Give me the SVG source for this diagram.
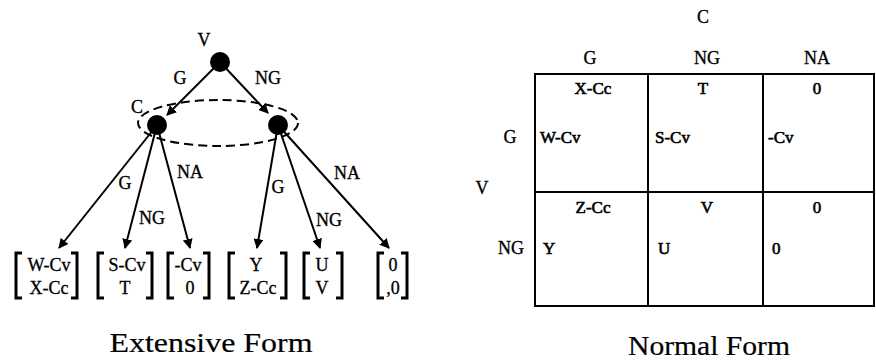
<svg xmlns="http://www.w3.org/2000/svg" width="876" height="362" viewBox="0 0 876 362">
<style>
text{font-family:"Liberation Serif","Times New Roman",serif;fill:#000;stroke:#000;stroke-width:0.3;}
.lb{font-size:18px;text-anchor:middle;}
.cell{font-size:17px;stroke-width:0.6;}
.mid{text-anchor:middle;}
.cap{font-size:27px;text-anchor:middle;stroke-width:0.2;}
.edge{stroke:#000;stroke-width:2;fill:none;marker-end:url(#ah);}
.node{fill:#000;}
.brk{stroke:#000;stroke-width:3;fill:none;}
.grid{stroke:#000;stroke-width:2;fill:none;}
</style>
<defs>
<marker id="ah" viewBox="0 0 10 10" refX="9" refY="5" markerWidth="5" markerHeight="5" orient="auto" markerUnits="strokeWidth">
<path d="M0,0 L10,5 L0,10 z" fill="#000"/>
</marker>
</defs>

<g id="connectors">
<line class="edge" x1="220" y1="62" x2="167" y2="115"/>
<line class="edge" x1="220" y1="62" x2="268" y2="113"/>
<line class="edge" x1="157" y1="125" x2="59" y2="248"/>
<line class="edge" x1="157" y1="125" x2="125" y2="248"/>
<line class="edge" x1="157" y1="125" x2="190" y2="248"/>
<line class="edge" x1="278" y1="125" x2="257" y2="248"/>
<line class="edge" x1="278" y1="125" x2="320" y2="248"/>
<line class="edge" x1="278" y1="125" x2="389" y2="248"/>
<text class="lb" x="180" y="84">G</text>
<text class="lb" x="268" y="84">NG</text>
<text class="lb" x="125" y="189">G</text>
<text class="lb" x="152" y="224">NG</text>
<text class="lb" x="190" y="178">NA</text>
<text class="lb" x="278" y="193">G</text>
<text class="lb" x="329" y="226">NG</text>
<text class="lb" x="347" y="179">NA</text>
</g>

<g id="info-set">
<ellipse cx="218" cy="123" rx="80" ry="23" fill="none" stroke="#000" stroke-width="2" stroke-dasharray="9,5"/>
</g>

<g id="node-V">
<circle class="node" cx="220" cy="62" r="10"/>
<text class="lb" x="204" y="46">V</text>
</g>
<g id="node-C1">
<circle class="node" cx="157" cy="125" r="10"/>
<text class="lb" x="137" y="113">C</text>
</g>
<g id="node-C2">
<circle class="node" cx="278" cy="125" r="10"/>
</g>

<g id="leaf1">
<path class="brk" d="M22,253 H16 V298 H22 M71,253 H77 V298 H71"/>
<text class="lb" x="49" y="271">W-Cv</text>
<text class="lb" x="49" y="294">X-Cc</text>
</g>
<g id="leaf2">
<path class="brk" d="M104,253 H98 V298 H104 M146,253 H152 V298 H146"/>
<text class="lb" x="127" y="271">S-Cv</text>
<text class="lb" x="125" y="294">T</text>
</g>
<g id="leaf3">
<path class="brk" d="M174,253 H168 V298 H174 M203,253 H209 V298 H203"/>
<text class="lb" x="188" y="271">-Cv</text>
<text class="lb" x="190" y="294">0</text>
</g>
<g id="leaf4">
<path class="brk" d="M235,253 H229 V298 H235 M280,253 H286 V298 H280"/>
<text class="lb" x="256" y="271">Y</text>
<text class="lb" x="258" y="294">Z-Cc</text>
</g>
<g id="leaf5">
<path class="brk" d="M310,253 H304 V298 H310 M336,253 H342 V298 H336"/>
<text class="lb" x="322" y="271">U</text>
<text class="lb" x="322" y="294">V</text>
</g>
<g id="leaf6">
<path class="brk" d="M384,253 H378 V298 H384 M401,253 H407 V298 H401"/>
<text class="lb" x="393" y="271">0</text>
<text class="lb" x="393" y="294">,0</text>
</g>

<text class="cap" x="211" y="352" textLength="203" lengthAdjust="spacingAndGlyphs">Extensive Form</text>

<g id="normal-form">
<path class="grid" d="M535,74 H874 V306 H535 Z M648,74 V306 M763,74 V306 M535,192 H874"/>
<text class="lb" x="703" y="23">C</text>
<text class="lb" x="590" y="64">G</text>
<text class="lb" x="707" y="64">NG</text>
<text class="lb" x="817" y="64">NA</text>
<text class="lb" x="482" y="194">V</text>
<text class="lb" x="510" y="143">G</text>
<text class="lb" x="511" y="254">NG</text>
<text class="cell mid" x="593" y="94">X-Cc</text>
<text class="cell mid" x="703" y="94">T</text>
<text class="cell mid" x="817" y="94">0</text>
<text class="cell" x="540" y="143">W-Cv</text>
<text class="cell" x="655" y="143">S-Cv</text>
<text class="cell" x="768" y="143">-Cv</text>
<text class="cell mid" x="593" y="213">Z-Cc</text>
<text class="cell mid" x="707" y="213">V</text>
<text class="cell mid" x="817" y="213">0</text>
<text class="cell" x="543" y="254">Y</text>
<text class="cell" x="658" y="254">U</text>
<text class="cell" x="772" y="254">0</text>
</g>

<text class="cap" x="709" y="355" textLength="162" lengthAdjust="spacingAndGlyphs">Normal Form</text>
</svg>
